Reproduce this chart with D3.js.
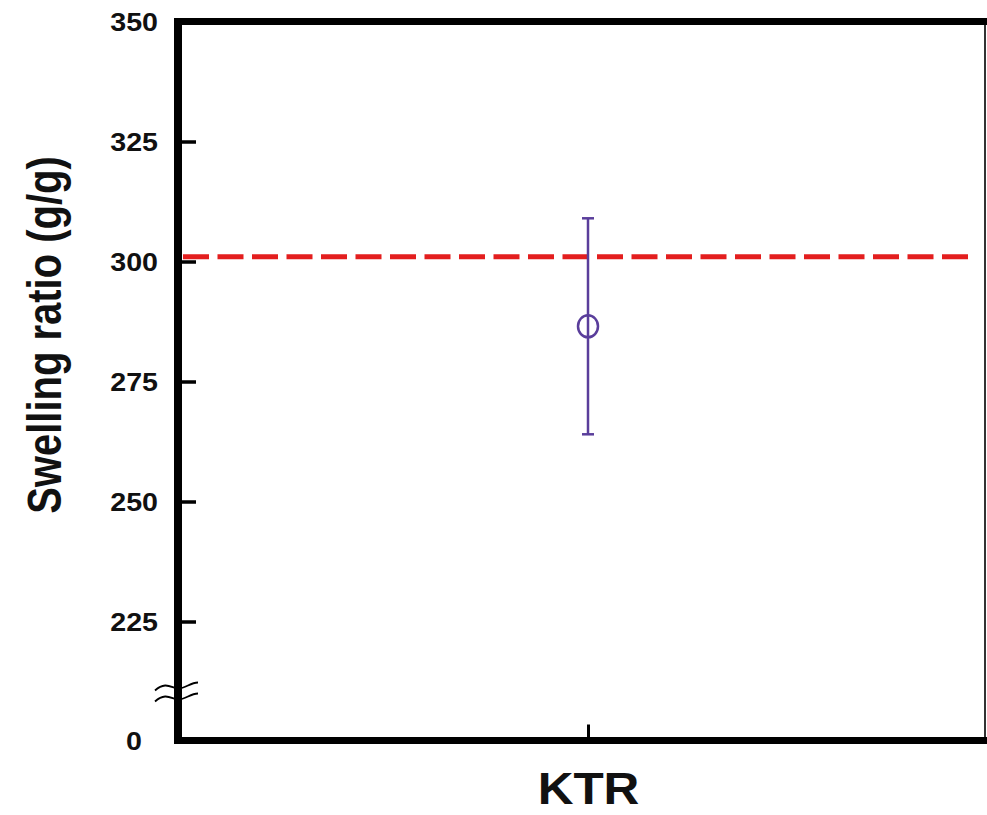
<!DOCTYPE html>
<html>
<head>
<meta charset="utf-8">
<script src="https://cdn.jsdelivr.net/npm/d3@7"></script>
<style>
  body { margin: 0; background: #fff; }
  text { font-family: "Liberation Sans", Arial, sans-serif; font-weight: bold; fill: #111; }
</style>
</head>
<body>
<script>
const categories = ['KTR'];
const means = [286.5];
const errors = [22.5];
const referenceLine = 301;
const yTicks = [0, 225, 250, 275, 300, 325, 350];

const w = 987;
const h = 815;
const plotLeft = 178;
const plotRight = 985;
const plotTop = 21.5;
const plotBottom = 740.5;

const svg = d3.select('body')
  .append('svg')
  .attr('width', w)
  .attr('height', h);

svg.append('rect').attr('width', w).attr('height', h).attr('fill', '#fff');

// broken axis: 0 .. 210 squeezed, 210 .. 350 linear (120px per 25)
const y = d3.scaleLinear()
  .domain([0, 210, 350])
  .range([plotBottom, plotTop + 120 * 5.6, plotTop]);

const x = d3.scalePoint()
  .domain(categories)
  .range([190, 986])
  .padding(0.5);

// reference line (dashed red)
svg.append('line')
  .attr('x1', plotLeft + 5)
  .attr('x2', 970)
  .attr('y1', y(referenceLine))
  .attr('y2', y(referenceLine))
  .attr('stroke', '#e31e1e')
  .attr('stroke-width', 5)
  .attr('stroke-dasharray', '26,8.5');

// frame: thin right edge, thick top and bottom
svg.append('line')
  .attr('x1', plotRight).attr('x2', plotRight)
  .attr('y1', plotTop).attr('y2', plotBottom)
  .attr('stroke', '#333').attr('stroke-width', 2);

svg.append('line')
  .attr('x1', plotLeft - 4).attr('x2', w)
  .attr('y1', plotTop).attr('y2', plotTop)
  .attr('stroke', '#000').attr('stroke-width', 7);

// y axis
const yAxis = d3.axisLeft(y)
  .tickValues(yTicks)
  .tickSizeInner(-18)
  .tickSizeOuter(0)
  .tickFormat(d3.format('d'));

const gy = svg.append('g')
  .attr('transform', 'translate(' + plotLeft + ',0)')
  .call(yAxis);

gy.select('.domain').remove();
gy.selectAll('.tick line')
  .attr('stroke', '#000')
  .attr('stroke-width', 3.5);
gy.selectAll('.tick text')
  .attr('x', d => (d === 0 ? -36 : -20) / 1.1)
  .attr('dy', '0.36em')
  .attr('transform', 'scale(1.1,1)')
  .style('font-size', '26px')
  .style('font-family', '"Liberation Sans", Arial, sans-serif')
  .style('font-weight', 'bold')
  .attr('fill', '#111');

svg.append('line')
  .attr('x1', plotLeft).attr('x2', plotLeft)
  .attr('y1', plotTop - 3.5).attr('y2', plotBottom + 3.5)
  .attr('stroke', '#000').attr('stroke-width', 8);

// x axis
const xAxis = d3.axisBottom(x)
  .tickSizeInner(-16)
  .tickSizeOuter(0);

const gx = svg.append('g')
  .attr('transform', 'translate(0,' + plotBottom + ')')
  .call(xAxis);

gx.select('.domain').remove();
gx.selectAll('.tick line')
  .attr('stroke', '#000')
  .attr('stroke-width', 3);
gx.selectAll('.tick text')
  .attr('dy', 0)
  .attr('y', 64)
  .attr('transform', 'scale(1.1,1)')
  .attr('x', 0)
  .style('font-size', '45px')
  .style('font-family', '"Liberation Sans", Arial, sans-serif')
  .style('font-weight', 'bold')
  .attr('fill', '#111');

svg.append('line')
  .attr('x1', plotLeft - 4).attr('x2', w)
  .attr('y1', plotBottom).attr('y2', plotBottom)
  .attr('stroke', '#000').attr('stroke-width', 7);

// axis break marks
const by = y(210) - 7;
[0, 11].forEach(off => {
  svg.append('path')
    .attr('d', 'M' + (plotLeft - 23) + ',' + (by + off + 4) +
      ' C' + (plotLeft - 12) + ',' + (by + off - 6) + ' ' + (plotLeft - 6) + ',' + (by + off + 2) + ' ' + plotLeft + ',' + (by + off + 2) +
      ' C' + (plotLeft + 8) + ',' + (by + off + 2) + ' ' + (plotLeft + 12) + ',' + (by + off - 4) + ' ' + (plotLeft + 20) + ',' + (by + off - 4))
    .attr('fill', 'none')
    .attr('stroke', '#000')
    .attr('stroke-width', 1.8);
});

// data: mean with error bars
const purple = '#5a3e9b';
const pts = svg.append('g');
categories.forEach((c, i) => {
  const cx = x(c);
  pts.append('line')
    .attr('x1', cx).attr('x2', cx)
    .attr('y1', y(means[i] + errors[i]))
    .attr('y2', y(means[i] - errors[i]))
    .attr('stroke', purple).attr('stroke-width', 2.5);
  [means[i] + errors[i], means[i] - errors[i]].forEach(v => {
    pts.append('line')
      .attr('x1', cx - 6).attr('x2', cx + 6)
      .attr('y1', y(v)).attr('y2', y(v))
      .attr('stroke', purple).attr('stroke-width', 2.5);
  });
  pts.append('ellipse')
    .attr('cx', cx).attr('cy', y(means[i]))
    .attr('rx', 10).attr('ry', 11)
    .attr('fill', 'none')
    .attr('stroke', purple).attr('stroke-width', 2.5);
});

// y title
svg.append('text')
  .attr('transform', 'translate(61,335) rotate(-90) scale(1,1.18)')
  .attr('text-anchor', 'middle')
  .style('font-size', '40px')
  .text('Swelling ratio (g/g)');
</script>
</body>
</html>
